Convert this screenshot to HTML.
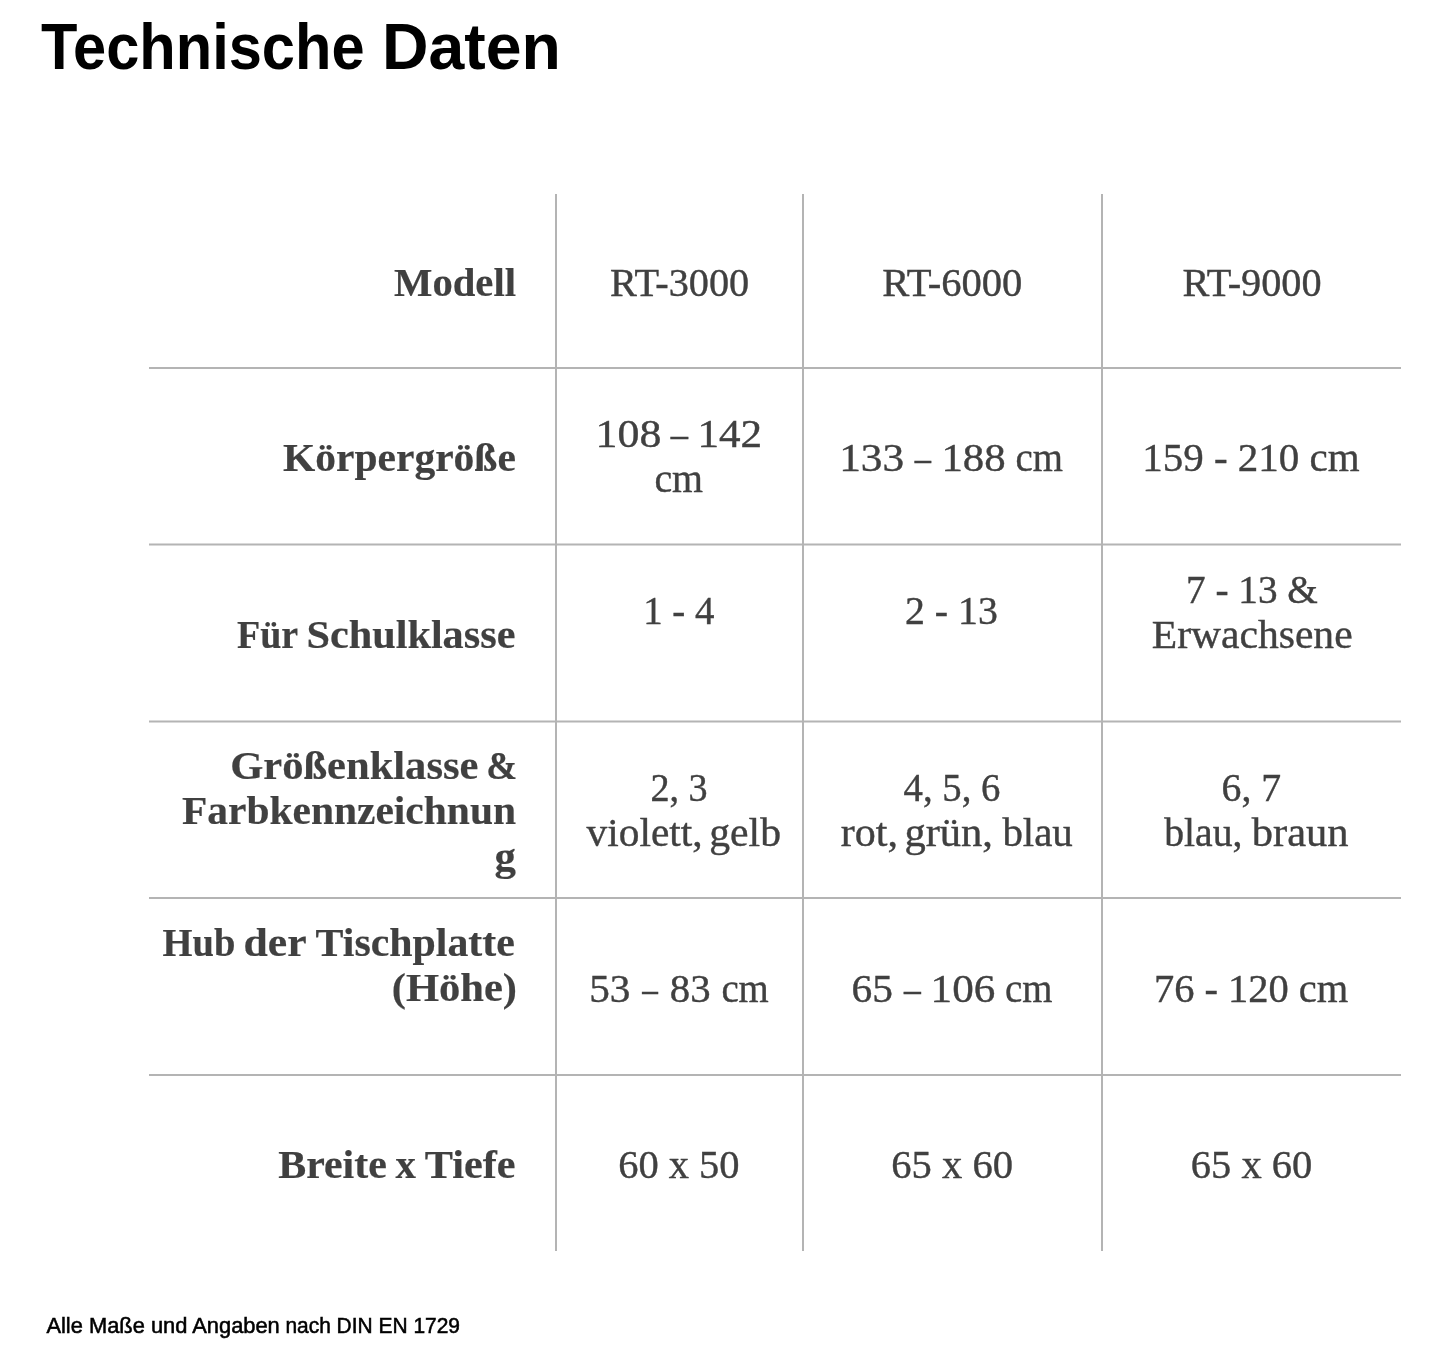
<!DOCTYPE html><html><head><meta charset="utf-8"><style>html,body{margin:0;padding:0;background:#fff;width:1445px;height:1358px;overflow:hidden}svg{display:block;will-change:transform}</style></head><body>
<svg width="1445" height="1358" viewBox="0 0 1445 1358">
<rect x="0" y="0" width="1445" height="1358" fill="#fff"/>
<rect x="149" y="367" width="1252" height="2" fill="#b4b4b4"/>
<rect x="149" y="543.5" width="1252" height="2" fill="#b4b4b4"/>
<rect x="149" y="720.5" width="1252" height="2" fill="#b4b4b4"/>
<rect x="149" y="897" width="1252" height="2" fill="#b4b4b4"/>
<rect x="149" y="1074" width="1252" height="2" fill="#b4b4b4"/>
<rect x="555" y="194" width="2" height="1057" fill="#b4b4b4"/>
<rect x="802" y="194" width="2" height="1057" fill="#b4b4b4"/>
<rect x="1101" y="194" width="2" height="1057" fill="#b4b4b4"/>
<text x="41.00" y="69.00" font-size="65.00" textLength="323.60" lengthAdjust="spacingAndGlyphs" style="font-family:'Liberation Sans',sans-serif;font-weight:bold;fill:#000">Technische</text>
<text x="382.00" y="69.00" font-size="65.00" textLength="178.80" lengthAdjust="spacingAndGlyphs" style="font-family:'Liberation Sans',sans-serif;font-weight:bold;fill:#000">Daten</text>
<text x="46.40" y="1333.30" font-size="22.50" textLength="233.40" lengthAdjust="spacingAndGlyphs" style="font-family:'Liberation Sans',sans-serif;font-weight:normal;fill:#000;stroke:#000;stroke-width:0.55">Alle Maße und Angaben</text>
<text x="285.40" y="1333.30" font-size="22.50" textLength="174.60" lengthAdjust="spacingAndGlyphs" style="font-family:'Liberation Sans',sans-serif;font-weight:normal;fill:#000;stroke:#000;stroke-width:0.55">nach DIN EN 1729</text>
<text x="394.00" y="296.00" font-size="40.00" textLength="122.00" lengthAdjust="spacingAndGlyphs" style="font-family:'Liberation Serif',serif;font-weight:bold;fill:#404040;stroke:#404040;stroke-width:0.20">Modell</text>
<text x="610.00" y="296.00" font-size="40.00" textLength="139.20" lengthAdjust="spacingAndGlyphs" style="font-family:'Liberation Serif',serif;font-weight:normal;fill:#404040;stroke:#404040;stroke-width:0.40">RT-3000</text>
<text x="882.20" y="296.00" font-size="40.00" textLength="140.20" lengthAdjust="spacingAndGlyphs" style="font-family:'Liberation Serif',serif;font-weight:normal;fill:#404040;stroke:#404040;stroke-width:0.40">RT-6000</text>
<text x="1182.40" y="296.00" font-size="40.00" textLength="139.20" lengthAdjust="spacingAndGlyphs" style="font-family:'Liberation Serif',serif;font-weight:normal;fill:#404040;stroke:#404040;stroke-width:0.40">RT-9000</text>
<text x="283.00" y="470.50" font-size="40.00" textLength="232.80" lengthAdjust="spacingAndGlyphs" style="font-family:'Liberation Serif',serif;font-weight:bold;fill:#404040;stroke:#404040;stroke-width:0.20">Körpergröße</text>
<text x="595.60" y="447.20" font-size="40.00" textLength="65.80" lengthAdjust="spacingAndGlyphs" style="font-family:'Liberation Serif',serif;font-weight:normal;fill:#404040;stroke:#404040;stroke-width:0.40">108</text>
<text x="670.80" y="447.20" font-size="40.00" textLength="17.20" lengthAdjust="spacingAndGlyphs" style="font-family:'Liberation Serif',serif;font-weight:normal;fill:#404040;stroke:#404040;stroke-width:0.40">–</text>
<text x="697.40" y="447.20" font-size="40.00" textLength="64.60" lengthAdjust="spacingAndGlyphs" style="font-family:'Liberation Serif',serif;font-weight:normal;fill:#404040;stroke:#404040;stroke-width:0.40">142</text>
<text x="654.40" y="492.20" font-size="40.00" textLength="48.60" lengthAdjust="spacingAndGlyphs" style="font-family:'Liberation Serif',serif;font-weight:normal;fill:#404040;stroke:#404040;stroke-width:0.40">cm</text>
<text x="839.20" y="471.20" font-size="40.00" textLength="65.00" lengthAdjust="spacingAndGlyphs" style="font-family:'Liberation Serif',serif;font-weight:normal;fill:#404040;stroke:#404040;stroke-width:0.40">133</text>
<text x="914.80" y="471.20" font-size="40.00" textLength="16.20" lengthAdjust="spacingAndGlyphs" style="font-family:'Liberation Serif',serif;font-weight:normal;fill:#404040;stroke:#404040;stroke-width:0.40">–</text>
<text x="941.40" y="471.20" font-size="40.00" textLength="64.20" lengthAdjust="spacingAndGlyphs" style="font-family:'Liberation Serif',serif;font-weight:normal;fill:#404040;stroke:#404040;stroke-width:0.40">188</text>
<text x="1015.60" y="471.20" font-size="40.00" textLength="47.40" lengthAdjust="spacingAndGlyphs" style="font-family:'Liberation Serif',serif;font-weight:normal;fill:#404040;stroke:#404040;stroke-width:0.40">cm</text>
<text x="1142.20" y="471.20" font-size="40.00" textLength="217.40" lengthAdjust="spacingAndGlyphs" style="font-family:'Liberation Serif',serif;font-weight:normal;fill:#404040;stroke:#404040;stroke-width:0.40">159 - 210 cm</text>
<text x="237.00" y="647.70" font-size="40.00" textLength="61.20" lengthAdjust="spacingAndGlyphs" style="font-family:'Liberation Serif',serif;font-weight:bold;fill:#404040;stroke:#404040;stroke-width:0.20">Für</text>
<text x="306.40" y="647.70" font-size="40.00" textLength="209.00" lengthAdjust="spacingAndGlyphs" style="font-family:'Liberation Serif',serif;font-weight:bold;fill:#404040;stroke:#404040;stroke-width:0.20">Schulklasse</text>
<text x="643.20" y="624.10" font-size="40.00" textLength="71.20" lengthAdjust="spacingAndGlyphs" style="font-family:'Liberation Serif',serif;font-weight:normal;fill:#404040;stroke:#404040;stroke-width:0.40">1 - 4</text>
<text x="905.00" y="624.00" font-size="40.00" textLength="92.80" lengthAdjust="spacingAndGlyphs" style="font-family:'Liberation Serif',serif;font-weight:normal;fill:#404040;stroke:#404040;stroke-width:0.40">2 - 13</text>
<text x="1186.00" y="603.20" font-size="40.00" textLength="131.80" lengthAdjust="spacingAndGlyphs" style="font-family:'Liberation Serif',serif;font-weight:normal;fill:#404040;stroke:#404040;stroke-width:0.40">7 - 13 &amp;</text>
<text x="1151.80" y="647.80" font-size="40.00" textLength="200.80" lengthAdjust="spacingAndGlyphs" style="font-family:'Liberation Serif',serif;font-weight:normal;fill:#404040;stroke:#404040;stroke-width:0.40">Erwachsene</text>
<text x="230.20" y="779.40" font-size="40.00" textLength="248.20" lengthAdjust="spacingAndGlyphs" style="font-family:'Liberation Serif',serif;font-weight:bold;fill:#404040;stroke:#404040;stroke-width:0.20">Größenklasse</text>
<text x="486.20" y="779.40" font-size="40.00" textLength="31.00" lengthAdjust="spacingAndGlyphs" style="font-family:'Liberation Serif',serif;font-weight:bold;fill:#404040;stroke:#404040;stroke-width:0.20">&amp;</text>
<text x="182.00" y="824.20" font-size="40.00" textLength="334.00" lengthAdjust="spacingAndGlyphs" style="font-family:'Liberation Serif',serif;font-weight:bold;fill:#404040;stroke:#404040;stroke-width:0.20">Farbkennzeichnun</text>
<text x="494.60" y="869.50" font-size="40.00" textLength="21.40" lengthAdjust="spacingAndGlyphs" style="font-family:'Liberation Serif',serif;font-weight:bold;fill:#404040;stroke:#404040;stroke-width:0.20">g</text>
<text x="650.40" y="801.10" font-size="40.00" textLength="57.20" lengthAdjust="spacingAndGlyphs" style="font-family:'Liberation Serif',serif;font-weight:normal;fill:#404040;stroke:#404040;stroke-width:0.40">2, 3</text>
<text x="586.60" y="845.70" font-size="40.00" textLength="116.00" lengthAdjust="spacingAndGlyphs" style="font-family:'Liberation Serif',serif;font-weight:normal;fill:#404040;stroke:#404040;stroke-width:0.40">violett,</text>
<text x="709.20" y="845.70" font-size="40.00" textLength="71.80" lengthAdjust="spacingAndGlyphs" style="font-family:'Liberation Serif',serif;font-weight:normal;fill:#404040;stroke:#404040;stroke-width:0.40">gelb</text>
<text x="903.60" y="801.30" font-size="40.00" textLength="96.80" lengthAdjust="spacingAndGlyphs" style="font-family:'Liberation Serif',serif;font-weight:normal;fill:#404040;stroke:#404040;stroke-width:0.40">4, 5, 6</text>
<text x="840.80" y="846.00" font-size="40.00" textLength="57.20" lengthAdjust="spacingAndGlyphs" style="font-family:'Liberation Serif',serif;font-weight:normal;fill:#404040;stroke:#404040;stroke-width:0.40">rot,</text>
<text x="904.40" y="846.00" font-size="40.00" textLength="88.60" lengthAdjust="spacingAndGlyphs" style="font-family:'Liberation Serif',serif;font-weight:normal;fill:#404040;stroke:#404040;stroke-width:0.40">grün,</text>
<text x="1002.40" y="846.00" font-size="40.00" textLength="70.40" lengthAdjust="spacingAndGlyphs" style="font-family:'Liberation Serif',serif;font-weight:normal;fill:#404040;stroke:#404040;stroke-width:0.40">blau</text>
<text x="1221.60" y="801.00" font-size="40.00" textLength="59.60" lengthAdjust="spacingAndGlyphs" style="font-family:'Liberation Serif',serif;font-weight:normal;fill:#404040;stroke:#404040;stroke-width:0.40">6, 7</text>
<text x="1164.20" y="845.70" font-size="40.00" textLength="78.20" lengthAdjust="spacingAndGlyphs" style="font-family:'Liberation Serif',serif;font-weight:normal;fill:#404040;stroke:#404040;stroke-width:0.40">blau,</text>
<text x="1251.80" y="845.70" font-size="40.00" textLength="96.80" lengthAdjust="spacingAndGlyphs" style="font-family:'Liberation Serif',serif;font-weight:normal;fill:#404040;stroke:#404040;stroke-width:0.40">braun</text>
<text x="162.60" y="956.30" font-size="40.00" textLength="72.80" lengthAdjust="spacingAndGlyphs" style="font-family:'Liberation Serif',serif;font-weight:bold;fill:#404040;stroke:#404040;stroke-width:0.20">Hub</text>
<text x="243.60" y="956.30" font-size="40.00" textLength="63.00" lengthAdjust="spacingAndGlyphs" style="font-family:'Liberation Serif',serif;font-weight:bold;fill:#404040;stroke:#404040;stroke-width:0.20">der</text>
<text x="315.60" y="956.30" font-size="40.00" textLength="199.20" lengthAdjust="spacingAndGlyphs" style="font-family:'Liberation Serif',serif;font-weight:bold;fill:#404040;stroke:#404040;stroke-width:0.20">Tischplatte</text>
<text x="391.80" y="1001.00" font-size="40.00" textLength="125.20" lengthAdjust="spacingAndGlyphs" style="font-family:'Liberation Serif',serif;font-weight:bold;fill:#404040;stroke:#404040;stroke-width:0.20">(Höhe)</text>
<text x="589.20" y="1001.60" font-size="40.00" textLength="41.20" lengthAdjust="spacingAndGlyphs" style="font-family:'Liberation Serif',serif;font-weight:normal;fill:#404040;stroke:#404040;stroke-width:0.40">53</text>
<text x="642.20" y="1001.60" font-size="40.00" textLength="15.60" lengthAdjust="spacingAndGlyphs" style="font-family:'Liberation Serif',serif;font-weight:normal;fill:#404040;stroke:#404040;stroke-width:0.40">–</text>
<text x="669.80" y="1001.60" font-size="40.00" textLength="40.80" lengthAdjust="spacingAndGlyphs" style="font-family:'Liberation Serif',serif;font-weight:normal;fill:#404040;stroke:#404040;stroke-width:0.40">83</text>
<text x="721.40" y="1001.60" font-size="40.00" textLength="47.40" lengthAdjust="spacingAndGlyphs" style="font-family:'Liberation Serif',serif;font-weight:normal;fill:#404040;stroke:#404040;stroke-width:0.40">cm</text>
<text x="851.60" y="1001.60" font-size="40.00" textLength="41.40" lengthAdjust="spacingAndGlyphs" style="font-family:'Liberation Serif',serif;font-weight:normal;fill:#404040;stroke:#404040;stroke-width:0.40">65</text>
<text x="904.00" y="1001.60" font-size="40.00" textLength="16.80" lengthAdjust="spacingAndGlyphs" style="font-family:'Liberation Serif',serif;font-weight:normal;fill:#404040;stroke:#404040;stroke-width:0.40">–</text>
<text x="930.60" y="1001.60" font-size="40.00" textLength="64.60" lengthAdjust="spacingAndGlyphs" style="font-family:'Liberation Serif',serif;font-weight:normal;fill:#404040;stroke:#404040;stroke-width:0.40">106</text>
<text x="1005.00" y="1001.60" font-size="40.00" textLength="47.40" lengthAdjust="spacingAndGlyphs" style="font-family:'Liberation Serif',serif;font-weight:normal;fill:#404040;stroke:#404040;stroke-width:0.40">cm</text>
<text x="1154.00" y="1001.60" font-size="40.00" textLength="194.20" lengthAdjust="spacingAndGlyphs" style="font-family:'Liberation Serif',serif;font-weight:normal;fill:#404040;stroke:#404040;stroke-width:0.40">76 - 120 cm</text>
<text x="278.20" y="1178.10" font-size="40.00" textLength="108.60" lengthAdjust="spacingAndGlyphs" style="font-family:'Liberation Serif',serif;font-weight:bold;fill:#404040;stroke:#404040;stroke-width:0.20">Breite</text>
<text x="395.60" y="1178.10" font-size="40.00" textLength="20.40" lengthAdjust="spacingAndGlyphs" style="font-family:'Liberation Serif',serif;font-weight:bold;fill:#404040;stroke:#404040;stroke-width:0.20">x</text>
<text x="424.80" y="1178.10" font-size="40.00" textLength="90.80" lengthAdjust="spacingAndGlyphs" style="font-family:'Liberation Serif',serif;font-weight:bold;fill:#404040;stroke:#404040;stroke-width:0.20">Tiefe</text>
<text x="618.20" y="1178.20" font-size="40.00" textLength="121.40" lengthAdjust="spacingAndGlyphs" style="font-family:'Liberation Serif',serif;font-weight:normal;fill:#404040;stroke:#404040;stroke-width:0.40">60 x 50</text>
<text x="891.20" y="1178.20" font-size="40.00" textLength="121.80" lengthAdjust="spacingAndGlyphs" style="font-family:'Liberation Serif',serif;font-weight:normal;fill:#404040;stroke:#404040;stroke-width:0.40">65 x 60</text>
<text x="1190.80" y="1178.20" font-size="40.00" textLength="121.40" lengthAdjust="spacingAndGlyphs" style="font-family:'Liberation Serif',serif;font-weight:normal;fill:#404040;stroke:#404040;stroke-width:0.40">65 x 60</text>
</svg></body></html>
